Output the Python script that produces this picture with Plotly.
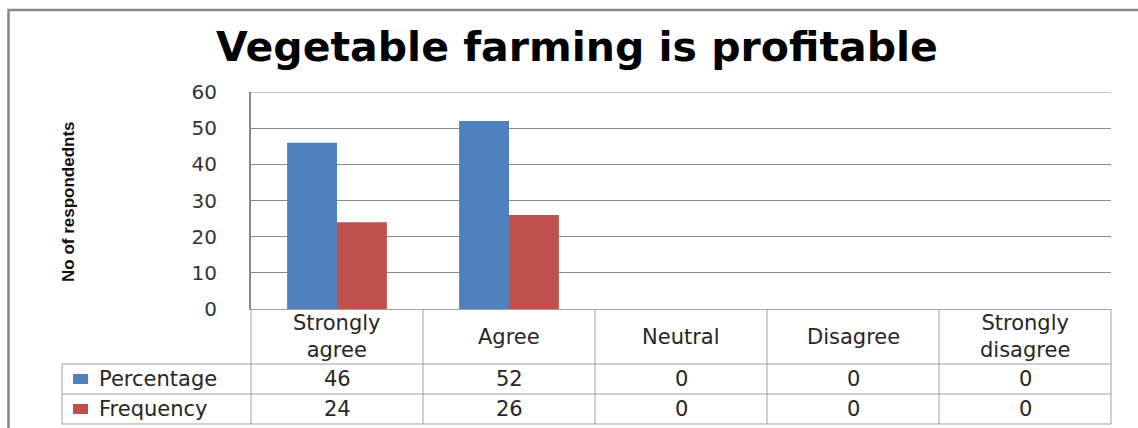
import plotly.graph_objects as go

# Survey responses: "Vegetable farming is profitable"
categories = ["Strongly agree", "Agree", "Neutral", "Disagree", "Strongly disagree"]
header_labels = ["Strongly<br>agree", "Agree", "Neutral", "Disagree", "Strongly<br>disagree"]
percentage = [46, 52, 0, 0, 0]
frequency = [24, 26, 0, 0, 0]
series_names = ["Percentage", "Frequency"]
series_colors = ["#4F81BD", "#C0504D"]
y_ticks = [0, 10, 20, 30, 40, 50, 60]

W, H = 1138, 428
ML, MR, MT, MB = 251, 27, 92, 119
PW, PH = W - ML - MR, H - MT - MB


def px_x(x):
    """Pixel column -> paper x."""
    return (x - ML) / PW


def px_y(y):
    """Pixel row -> paper y."""
    return (H - MB - y) / PH


fig = go.Figure()
for name, vals, col in zip(series_names, [percentage, frequency], series_colors):
    fig.add_trace(go.Bar(
        x=list(range(len(categories))), y=vals, name=name,
        marker=dict(color=col, line=dict(width=0)),
        showlegend=False,
    ))

n = len(categories)
grid_col = "#8a8a8a"
table_col = "#a0a0a0"
text_col = "#262626"
table_font = dict(family="DejaVu Sans, Verdana, sans-serif", size=21, color=text_col)

# data-table rows (pixel rows of the header bottom and the two series rows)
row_top = H - MB
row_lines = [364, 394, 424]
row_centres = [379, 409]
legend_left = 62

shapes = []
# top gridline at the end of the value range
shapes.append(dict(type="line", xref="paper", yref="y", x0=0, x1=1,
                   y0=y_ticks[-1], y1=y_ticks[-1], line=dict(color=grid_col, width=1)))
# horizontal table lines
for ry in row_lines:
    shapes.append(dict(type="line", xref="paper", yref="paper",
                       x0=px_x(legend_left), x1=1, y0=px_y(ry), y1=px_y(ry),
                       line=dict(color=table_col, width=1)))
# vertical table lines at category boundaries
for k in range(n + 1):
    shapes.append(dict(type="line", xref="paper", yref="paper",
                       x0=k / n, x1=k / n, y0=0, y1=px_y(row_lines[-1]),
                       line=dict(color=table_col, width=1)))
# left edge of the legend column
shapes.append(dict(type="line", xref="paper", yref="paper",
                   x0=px_x(legend_left), x1=px_x(legend_left),
                   y0=px_y(row_lines[0]), y1=px_y(row_lines[-1]),
                   line=dict(color=table_col, width=1)))
# legend keys
for rc, col in zip(row_centres, series_colors):
    shapes.append(dict(type="rect", xref="paper", yref="paper",
                       x0=px_x(73), x1=px_x(88), y0=px_y(rc + 5), y1=px_y(rc - 5),
                       fillcolor=col, line=dict(width=0)))
# chart frame (left and top edges)
shapes.append(dict(type="path", xref="paper", yref="paper",
                   path=f"M {px_x(8.5)} {px_y(440)} L {px_x(8.5)} {px_y(10)} L {px_x(1138)} {px_y(10)}",
                   line=dict(color="#888888", width=2.5)))

annotations = []
# category header cells
for i, lab in enumerate(header_labels):
    annotations.append(dict(x=i, xref="x", y=px_y((row_top + row_lines[0]) / 2), yref="paper",
                            text=lab, showarrow=False, xanchor="center", yanchor="middle",
                            font=table_font, align="center"))
# series rows: legend label + values
for name, vals, rc in zip(series_names, [percentage, frequency], row_centres):
    annotations.append(dict(x=px_x(97), xref="paper", y=px_y(rc), yref="paper",
                            text=name, showarrow=False, xanchor="left", yanchor="middle",
                            font=table_font))
    for i, v in enumerate(vals):
        annotations.append(dict(x=i, xref="x", y=px_y(rc), yref="paper",
                                text=str(v), showarrow=False, xanchor="center",
                                yanchor="middle", font=table_font))
# vertical axis title
annotations.append(dict(x=px_x(68), xref="paper", y=px_y(202), yref="paper",
                        text="<b>No of respondednts</b>", textangle=-90, showarrow=False,
                        xanchor="center", yanchor="middle",
                        font=dict(family="Liberation Sans, Arial, sans-serif",
                                  size=17, color="#111111")))

fig.update_layout(
    width=W, height=H,
    margin=dict(l=ML, r=MR, t=MT, b=MB, pad=0),
    paper_bgcolor="white", plot_bgcolor="white",
    barmode="group", bargap=0.42, bargroupgap=0,
    title=dict(text="<b>Vegetable farming is profitable</b>", x=0.507, xanchor="center",
               y=1 - 47 / H, yanchor="middle", yref="container",
               font=dict(family="DejaVu Sans, Verdana, sans-serif", size=41, color="#000000")),
    xaxis=dict(range=[-0.5, n - 0.5], showticklabels=False, ticks="", showgrid=False,
               zeroline=False, showline=True, linecolor=table_col, linewidth=1, fixedrange=True),
    yaxis=dict(range=[0, 60], tickvals=y_ticks, showgrid=True, gridcolor=grid_col, gridwidth=1,
               zeroline=False, showline=True, linecolor="#8a8a8a", linewidth=2, ticks="",
               ticklabelstandoff=28,
               tickfont=dict(family="DejaVu Sans, Verdana, sans-serif", size=20, color="#333333")),
    shapes=shapes,
    annotations=annotations,
)

fig.write_html("out.html")
